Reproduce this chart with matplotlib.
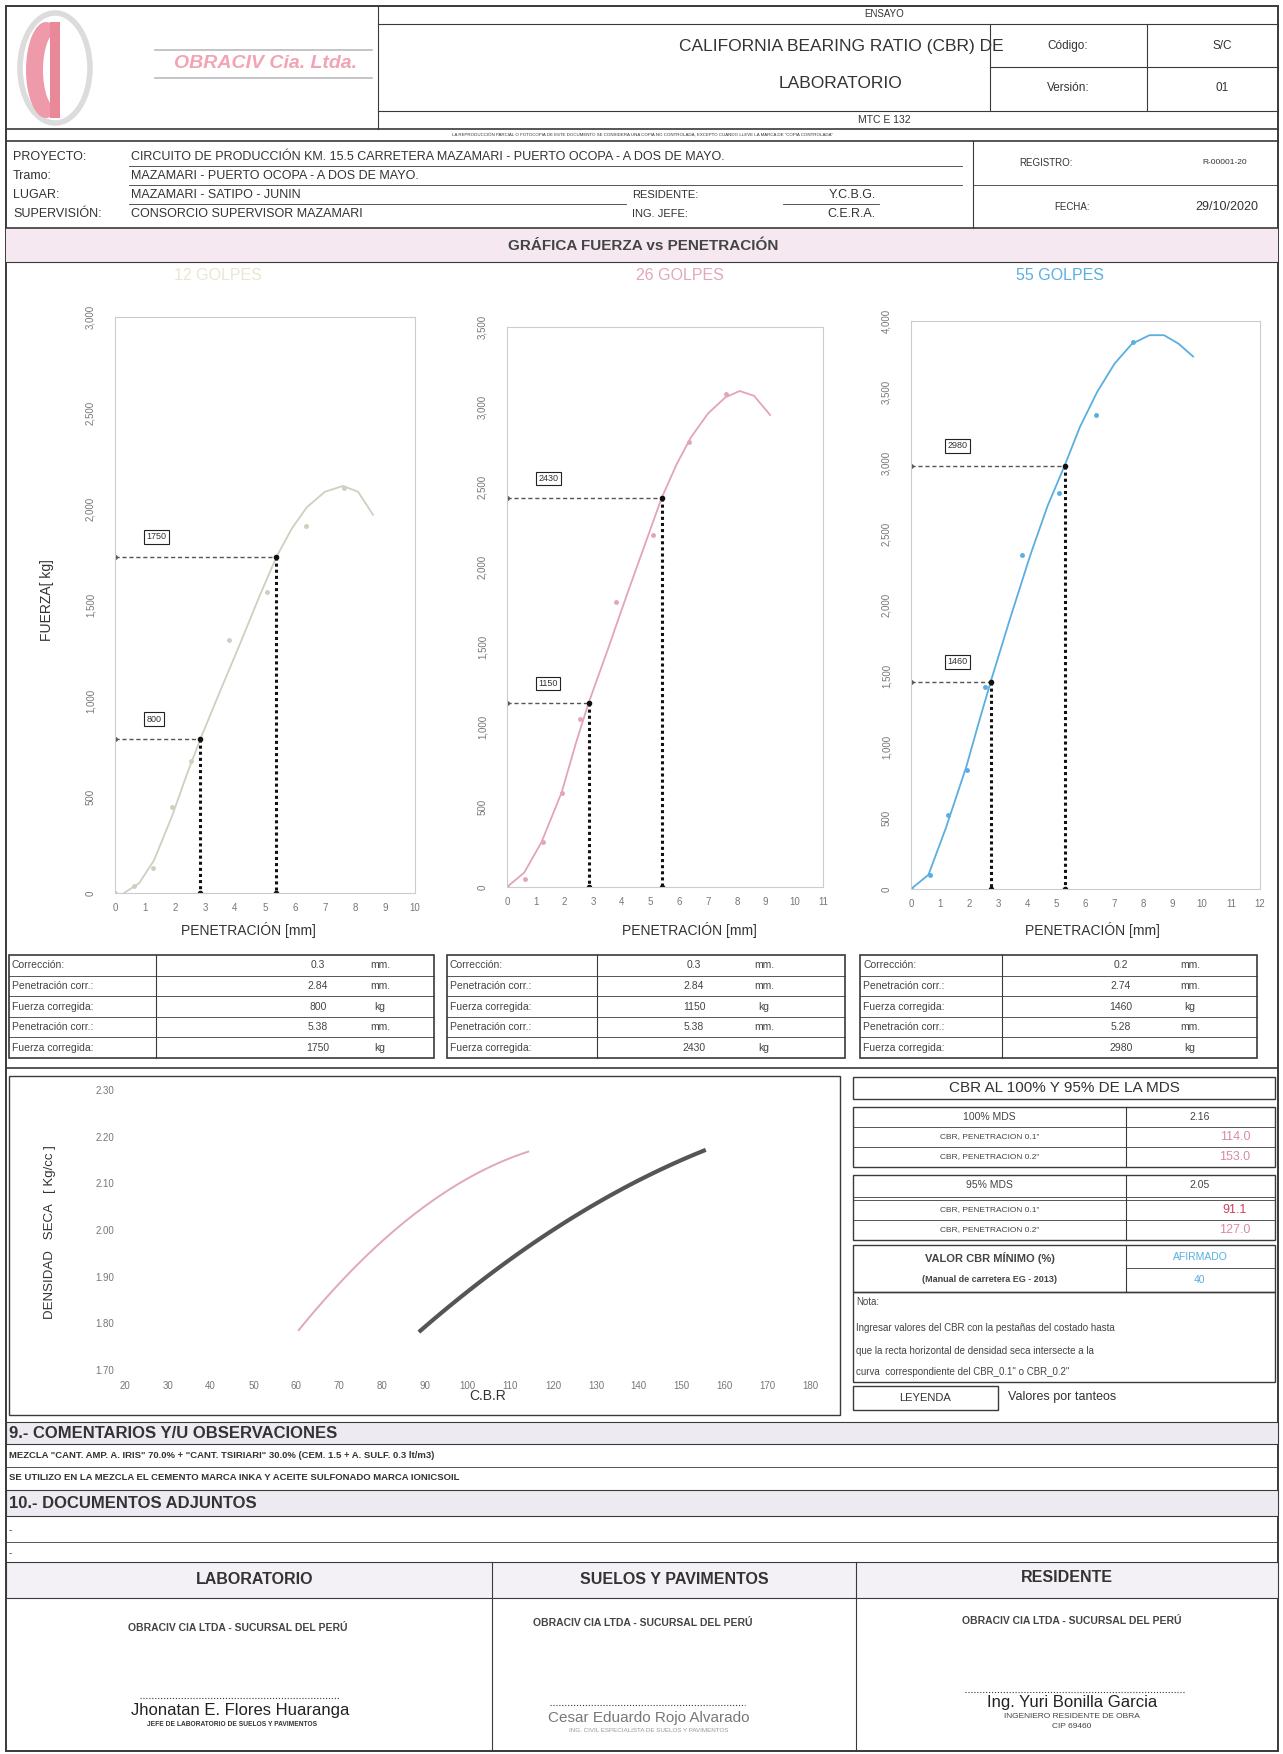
import numpy as np
import matplotlib.pyplot as plt
from matplotlib.patches import Rectangle, Ellipse

plt.rcParams['font.family'] = ['Liberation Sans', 'DejaVu Sans']

W, H = 1283, 1754

# ---- data ----
pen = [0, 0.64, 1.27, 1.91, 2.54, 3.81, 5.08, 6.35, 7.62]
fuerza_12 = [0, 35, 130, 450, 690, 1320, 1570, 1910, 2110]
fuerza_26 = [0, 50, 280, 590, 1050, 1780, 2200, 2780, 3080]
fuerza_55 = [0, 100, 520, 840, 1420, 2350, 2790, 3340, 3850]

# trend curves
curva_12_x = [0.3, 0.8, 1.3, 1.9, 2.4, 2.84, 3.5, 4.2, 4.8, 5.38, 5.9, 6.4, 7.0, 7.6, 8.1, 8.6]
curva_12_y = [0, 50, 170, 400, 620, 800, 1050, 1310, 1540, 1750, 1900, 2010, 2090, 2120, 2090, 1970]
curva_26_x = [0, 0.6, 1.2, 1.9, 2.4, 2.84, 3.5, 4.2, 4.8, 5.38, 5.9, 6.4, 7.0, 7.6, 8.1, 8.6, 9.16]
curva_26_y = [0, 90, 280, 590, 900, 1150, 1480, 1840, 2140, 2430, 2640, 2810, 2960, 3060, 3100, 3070, 2950]
curva_55_x = [0, 0.6, 1.2, 1.9, 2.3, 2.74, 3.4, 4.1, 4.7, 5.28, 5.8, 6.4, 7.0, 7.6, 8.2, 8.7, 9.2, 9.7]
curva_55_y = [0, 100, 430, 860, 1150, 1460, 1900, 2350, 2700, 2980, 3250, 3500, 3700, 3840, 3900, 3900, 3840, 3750]

golpes = ['12 GOLPES', '26 GOLPES', '55 GOLPES']
correccion = [0.3, 0.3, 0.2]
pen_01 = [2.84, 2.84, 2.74]
f_01 = [800, 1150, 1460]
pen_02 = [5.38, 5.38, 5.28]
f_02 = [1750, 2430, 2980]
y_max = [3000, 3500, 4000]
x_max = [10, 11, 12]

cbr_01 = [60.6, 70.3, 80.0, 90.3, 100.6, 114.2]
dens_01 = [1.786, 1.886, 1.979, 2.050, 2.114, 2.168]
cbr_02 = [89.0, 103.9, 116.8, 129.7, 142.6, 155.2]
dens_02 = [1.786, 1.893, 1.979, 2.057, 2.121, 2.168]

mds_100 = '2.16'
cbr100 = ['114.0', '153.0']
mds_95 = '2.05'
cbr95 = ['91.1', '127.0']

fig = plt.figure(figsize=(12.83, 17.54), dpi=100)
bg = fig.add_axes([0, 0, 1, 1])
bg.set_xlim(0, W)
bg.set_ylim(H, 0)
bg.axis('off')

LC = '#3a3a3a'


def hl(y, x0, x1, lw=0.8, c=LC, ls='-'):
    bg.plot([x0, x1], [y, y], color=c, lw=lw, ls=ls)


def vl(x, y0, y1, lw=0.8, c=LC):
    bg.plot([x, x], [y0, y1], color=c, lw=lw)


def tx(x, y, s, size=8, ha='left', weight='normal', color='#333', **kw):
    bg.text(x, y, s, fontsize=size, ha=ha, va='center', fontweight=weight, color=color, **kw)


def box(x0, y0, x1, y1, fc='none', lw=0.8, ec=LC):
    bg.add_patch(Rectangle((x0, y0), x1 - x0, y1 - y0, fc=fc, ec=ec, lw=lw))


def ax_at(x0, y0, x1, y1):
    return fig.add_axes([x0 / W, 1 - y1 / H, (x1 - x0) / W, (y1 - y0) / H])


# ---- header ----
box(6, 6, 1278, 1751, lw=1.4)
vl(378, 6, 129)
bg.add_patch(Ellipse((55, 68), 70, 110, fill=False, ec='#dcdcdc', lw=4))
bg.add_patch(Ellipse((46, 70), 40, 96, fc='#ee9aaa', ec='none'))
bg.add_patch(Ellipse((58, 70), 30, 78, fc='white', ec='none'))
bg.add_patch(Rectangle((50, 22), 10, 96, fc='#e88899', ec='none'))
hl(50, 155, 372, c='#bbbbbb', lw=1.2)
hl(78, 155, 372, c='#bbbbbb', lw=1.2)
tx(265, 64, 'OBRACIV Cia. Ltda.', 14, 'center', 'bold', '#f2a4b4', style='italic')
tx(884, 14, 'ENSAYO', 7, 'center')
hl(24, 378, 1278)
tx(841, 47, 'CALIFORNIA BEARING RATIO (CBR) DE', 12.5, 'center')
tx(841, 84, 'LABORATORIO', 12.5, 'center')
vl(990, 24, 111)
vl(1147, 24, 111)
hl(67, 990, 1278)
tx(1068, 46, 'Código:', 8.5, 'center')
tx(1222, 46, 'S/C', 8.5, 'center')
tx(1068, 88, 'Versión:', 8.5, 'center')
tx(1222, 88, '01', 8.5, 'center')
hl(111, 378, 1278)
tx(884, 120, 'MTC E 132', 7.5, 'center')
hl(129, 6, 1278, lw=1.2)
tx(643, 135, 'LA REPRODUCCIÓN PARCIAL O FOTOCOPIA DE ESTE DOCUMENTO SE CONSIDERA UNA COPIA NO CONTROLADA, '
   'EXCEPTO CUANDO LLEVE LA MARCA DE "COPIA CONTROLADA"', 3.2, 'center')
hl(141, 6, 1278, lw=1.2)

info_lab = ['PROYECTO:', 'Tramo:', 'LUGAR:', 'SUPERVISIÓN:']
info_val = ['CIRCUITO DE PRODUCCIÓN KM. 15.5 CARRETERA MAZAMARI - PUERTO OCOPA - A DOS DE MAYO.',
            'MAZAMARI - PUERTO OCOPA - A DOS DE MAYO.',
            'MAZAMARI - SATIPO - JUNIN',
            'CONSORCIO SUPERVISOR MAZAMARI']
info_y = [157, 176, 195, 214]
for lab, val, y in zip(info_lab, info_val, info_y):
    tx(13, y, lab, 9)
    tx(131, y, val, 9)
hl(166, 129, 962, lw=0.6)
hl(185, 129, 962, lw=0.6)
hl(204, 129, 626, lw=0.6)
tx(632, 195, 'RESIDENTE:', 8)
tx(632, 214, 'ING. JEFE:', 8)
tx(876, 195, 'Y.C.B.G.', 9, 'right')
tx(876, 214, 'C.E.R.A.', 9, 'right')
hl(204, 783, 879, lw=0.6)
vl(973, 141, 228)
hl(185, 973, 1278, lw=0.6)
tx(1046, 163, 'REGISTRO:', 7, 'center')
tx(1225, 163, 'R-00001-20', 6, 'center')
tx(1072, 207, 'FECHA:', 7, 'center')
tx(1227, 207, '29/10/2020', 9, 'center')
hl(228, 6, 1278, lw=1.2)

box(6, 228, 1278, 262, fc='#f6e8f0', lw=0)
hl(262, 6, 1278, lw=0.8)
tx(643, 246, 'GRÁFICA FUERZA vs PENETRACIÓN', 11, 'center', 'bold', '#444')

# ---- force vs penetration charts ----
fuerzas = [fuerza_12, fuerza_26, fuerza_55]
curvas = [(curva_12_x, curva_12_y), (curva_26_x, curva_26_y), (curva_55_x, curva_55_y)]
colores = ['#cfcfbf', '#e3a3bd', '#5aaee0']
titulo_col = ['#ebe6d2', '#e3a6c0', '#5aaee0']
ax_pos = [(115, 317, 415, 893), (507, 327, 823, 887), (911, 321, 1260, 889)]
titulo_x = [218, 680, 1060]
xt_x = [248, 689, 1092]
lab_x = [1.05, 1.1, 1.25]

for i in range(3):
    ax = ax_at(*ax_pos[i])
    cx, cy = curvas[i]
    ax.plot(cx, cy, color=colores[i], lw=1.3)
    ax.plot(pen, fuerzas[i], 'o', color=colores[i], ms=2.5)
    for px, fy in [(pen_01[i], f_01[i]), (pen_02[i], f_02[i])]:
        ax.plot([0, px], [fy, fy], color='#555', lw=1, ls=(0, (3, 2)), marker='o', ms=2.5)
        ax.plot([px, px], [fy, 0], color='#111', lw=2.2, ls=(0, (1, 1)), marker='o', ms=3)
        ax.text(lab_x[i], fy + y_max[i] * 0.035, f'{fy}', fontsize=6.5, ha='left', va='center', color='#333',
                bbox=dict(boxstyle='square,pad=0.25', fc='white', ec='#222', lw=0.8))
    ax.set_xlim(0, x_max[i])
    ax.set_ylim(0, y_max[i])
    ax.set_xticks(range(0, x_max[i] + 1))
    ax.set_yticks(range(0, y_max[i] + 1, 500))
    ax.set_yticklabels([f'{v:,}' for v in range(0, y_max[i] + 1, 500)], rotation=90, va='center')
    ax.tick_params(axis='y', length=0, labelsize=7, colors='#777', pad=14)
    ax.tick_params(axis='x', length=0, labelsize=7, colors='#777', pad=7)
    for s in ax.spines.values():
        s.set_color('#cccccc')
        s.set_linewidth(0.8)
    tx(titulo_x[i], 276, golpes[i], 11.5, 'center', color=titulo_col[i])
    tx(xt_x[i], 930, 'PENETRACIÓN [mm]', 10, 'center')

tx(47, 600, 'FUERZA[ kg]', 10, 'center', rotation=90)

# ---- tables ----
tab_lab = ['Corrección:', 'Penetración corr.:', 'Fuerza corregida:', 'Penetración corr.:', 'Fuerza corregida:']
tab_uni = ['mm.', 'mm.', 'kg', 'mm.', 'kg']
tab_x = [(9, 156, 434, 318, 380), (447, 597, 845, 694, 764), (860, 1002, 1257, 1121, 1190)]
top, rh = 955, 20.6
for i in range(3):
    x0, xs_, x1, xv, xu = tab_x[i]
    vals = [f'{correccion[i]}', f'{pen_01[i]:.2f}', f'{f_01[i]}', f'{pen_02[i]:.2f}', f'{f_02[i]}']
    box(x0, top, x1, top + 5 * rh, lw=1.2)
    vl(xs_, top, top + 5 * rh)
    for r in range(5):
        yc = top + rh * (r + 0.5)
        if r:
            hl(top + rh * r, x0, x1, lw=0.6)
        tx(x0 + 3, yc, tab_lab[r], 7.5, color='#444')
        tx(xv, yc, vals[r], 7.5, 'center', color='#444')
        tx(xu, yc, tab_uni[r], 7.5, 'center', color='#444')

hl(1068, 6, 1278, lw=1.2)

# ---- CBR vs density chart ----
box(9, 1076, 840, 1415, lw=1)
axc = ax_at(125, 1090, 810, 1370)
for cx, dy, col, lw in [(cbr_01, dens_01, '#e0a8b8', 1.4), (cbr_02, dens_02, '#555555', 3)]:
    k = np.polyfit(cx, dy, 2)
    xx = np.linspace(cx[0], cx[-1], 100)
    axc.plot(xx, np.polyval(k, xx), color=col, lw=lw)
axc.set_xlim(20, 180)
axc.set_ylim(1.70, 2.30)
axc.set_xticks(range(20, 181, 10))
axc.set_yticks(np.arange(1.70, 2.31, 0.10))
axc.set_yticklabels([f'{v:.2f}' for v in np.arange(1.70, 2.31, 0.10)])
axc.tick_params(length=0, labelsize=7, colors='#777', pad=8)
for s in axc.spines.values():
    s.set_visible(False)
axc.patch.set_alpha(0)
tx(488, 1396, 'C.B.R', 10, 'center')
tx(50, 1232, 'DENSIDAD   SECA   [ Kg/cc ]', 9.5, 'center', rotation=90)

# ---- CBR summary table ----
R0, RS, R1 = 853, 1126, 1275
box(R0, 1077, R1, 1099, lw=1)
tx((R0 + R1) / 2, 1088, 'CBR AL 100% Y 95% DE LA MDS', 11, 'center', color='#333')
rows = [('100% MDS', mds_100, 1107, 1127, '#444'),
        ('CBR, PENETRACION 0.1"', cbr100[0], 1127, 1147, '#d98aa0'),
        ('CBR, PENETRACION 0.2"', cbr100[1], 1147, 1167, '#d98aa0'),
        ('95% MDS', mds_95, 1175, 1195, '#444'),
        ('CBR, PENETRACION 0.1"', cbr95[0], 1200, 1220, '#d04060'),
        ('CBR, PENETRACION 0.2"', cbr95[1], 1220, 1240, '#d98aa0')]
box(R0, 1107, R1, 1167, lw=1)
box(R0, 1175, R1, 1240, lw=1)
vl(RS, 1107, 1167)
vl(RS, 1175, 1240)
hl(1197, R0, R1, lw=0.6)
for lab, val, y0, y1, col in rows:
    if y0 not in (1107, 1175):
        hl(y0, R0, R1, lw=0.6)
    big = 'MDS' in lab
    tx((R0 + RS) / 2, (y0 + y1) / 2, lab, 7.5 if big else 6, 'center', color='#444')
    tx(1200 if big else 1235, (y0 + y1) / 2, val, 7.5 if big else 9, 'center', color=col)
box(R0, 1245, R1, 1292, lw=1)
vl(RS, 1245, 1292)
hl(1268, RS, R1, lw=0.6)
tx((R0 + RS) / 2, 1258, 'VALOR CBR MÍNIMO (%)', 8, 'center', 'bold', '#444')
tx((R0 + RS) / 2, 1280, '(Manual de carretera EG - 2013)', 6.5, 'center', 'bold', '#444')
tx(1200, 1257, 'AFIRMADO', 7.5, 'center', color='#5aaee0')
tx(1200, 1280, '40', 7.5, 'center', color='#5aaee0')
box(R0, 1292, R1, 1382, lw=1)
tx(R0 + 3, 1302, 'Nota:', 7, color='#444')
tx(R0 + 3, 1328, 'Ingresar valores del CBR con la pestañas del costado hasta', 7, color='#444')
tx(R0 + 3, 1351, 'que la recta horizontal de densidad seca intersecte a la', 7, color='#444')
tx(R0 + 3, 1372, "curva  correspondiente del CBR_0.1\" o CBR_0.2\"", 7, color='#444')
box(R0, 1386, 998, 1410, lw=1)
tx(925, 1398, 'LEYENDA', 8, 'center')
tx(1008, 1397, 'Valores por tanteos', 9)

# ---- comments / documents ----
box(6, 1422, 1278, 1444, fc='#eeeaf2', lw=0.8)
tx(9, 1433, '9.- COMENTARIOS Y/U OBSERVACIONES', 12, weight='bold', color='#333')
tx(9, 1455, 'MEZCLA "CANT. AMP. A. IRIS" 70.0% + "CANT. TSIRIARI" 30.0% (CEM. 1.5 + A. SULF. 0.3 lt/m3)', 6.8,
   weight='bold')
hl(1467, 6, 1278, lw=0.6)
tx(9, 1478, 'SE UTILIZO EN LA MEZCLA EL CEMENTO MARCA INKA Y ACEITE SULFONADO MARCA IONICSOIL', 6.8, weight='bold')
box(6, 1490, 1278, 1516, fc='#eeeaf2', lw=0.8)
tx(9, 1503, '10.- DOCUMENTOS ADJUNTOS', 12, weight='bold', color='#333')
tx(9, 1530, '-', 7)
hl(1542, 6, 1278, lw=0.6)
tx(9, 1553, '-', 7)

# ---- signatures ----
box(6, 1562, 1278, 1598, fc='#f3f0f6', lw=0.8)
vl(492, 1562, 1751)
vl(856, 1562, 1751)
tx(255, 1580, 'LABORATORIO', 11.5, 'center', 'bold')
tx(674, 1580, 'SUELOS Y PAVIMENTOS', 11.5, 'center', 'bold')
tx(1067, 1578, 'RESIDENTE', 11.5, 'center', 'bold')
tx(238, 1628, 'OBRACIV CIA LTDA - SUCURSAL DEL PERÚ', 7.5, 'center', 'bold', '#444')
tx(643, 1623, 'OBRACIV CIA LTDA - SUCURSAL DEL PERÚ', 7.5, 'center', 'bold', '#444')
tx(1072, 1621, 'OBRACIV CIA LTDA - SUCURSAL DEL PERÚ', 7.5, 'center', 'bold', '#444')
hl(1698, 140, 340, lw=0.8, ls=':')
hl(1705, 550, 745, lw=0.8, ls=':')
hl(1692, 965, 1185, lw=0.8, ls=':')
tx(240, 1710, 'Jhonatan E. Flores Huaranga', 12, 'center', color='#222')
tx(232, 1725, 'JEFE DE LABORATORIO DE SUELOS Y PAVIMENTOS', 4.8, 'center', 'bold')
tx(649, 1718, 'Cesar Eduardo Rojo Alvarado', 11, 'center', color='#777')
tx(649, 1731, 'ING. CIVIL ESPECIALISTA DE SUELOS Y PAVIMENTOS', 4.5, 'center', color='#999')
tx(1072, 1703, 'Ing. Yuri Bonilla Garcia', 12, 'center', color='#222')
tx(1072, 1716, 'INGENIERO RESIDENTE DE OBRA', 6, 'center', color='#444')
tx(1072, 1727, 'CIP 69460', 6, 'center', color='#444')

fig.savefig('out.png', dpi=100)
